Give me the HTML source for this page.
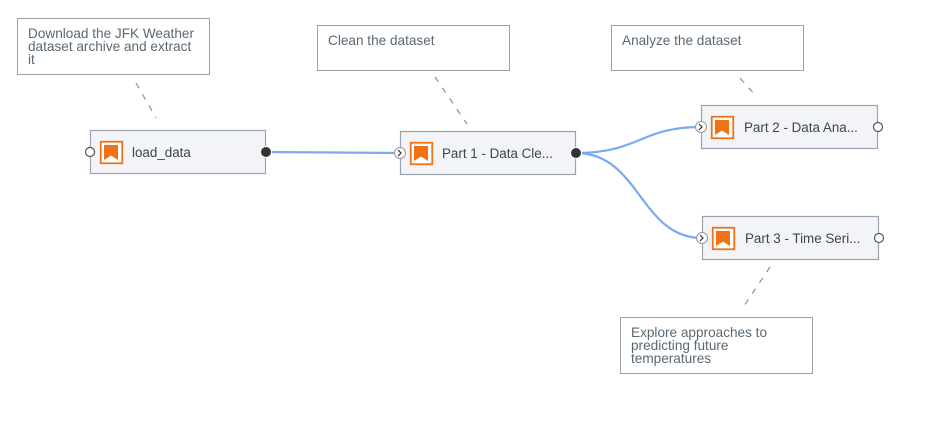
<!DOCTYPE html>
<html><head><meta charset="utf-8"><style>
html,body{margin:0;padding:0;background:#fff;width:935px;height:422px;overflow:hidden}
svg{display:block;font-family:"Liberation Sans",sans-serif}
.ct{font-size:13.6px;fill:#5a6872}
.nt{font-size:13.4px;fill:#3d4450}
</style></head><body>
<svg width="935" height="422" viewBox="0 0 935 422" xmlns="http://www.w3.org/2000/svg">
<defs>
<g id="icon">
<rect x="0.75" y="0.75" width="21.5" height="21.5" fill="#fff" stroke="#f07214" stroke-width="1.8"/>
<path d="M4 4 H18 V19 L11 14.5 L4 19 Z" fill="#f07214"/>
</g>
</defs>
<g fill="#fff" stroke="#9aa1a8" stroke-width="1">
<rect x="17.5" y="18.5" width="192" height="56"/>
<rect x="317.5" y="25.5" width="192" height="45"/>
<rect x="611.5" y="25.5" width="192" height="45"/>
<rect x="620.5" y="317.5" width="192" height="56"/>
</g>
<text class="ct" x="28" y="38">Download the JFK Weather</text>
<text class="ct" x="28" y="51">dataset archive and extract</text>
<text class="ct" x="28" y="64">it</text>
<text class="ct" x="328" y="45">Clean the dataset</text>
<text class="ct" x="622" y="45">Analyze the dataset</text>
<text class="ct" x="631" y="337">Explore approaches to</text>
<text class="ct" x="631" y="350">predicting future</text>
<text class="ct" x="631" y="363">temperatures</text>
<g stroke="#8a9199" stroke-width="1.2" stroke-dasharray="6,7" fill="none">
<line x1="136" y1="83" x2="156" y2="118"/>
<line x1="435" y1="77" x2="467" y2="124"/>
<line x1="740" y1="78" x2="756" y2="96"/>
<line x1="770" y1="267" x2="742" y2="309"/>
</g>
<g stroke="#7aa9f7" stroke-width="2.2" fill="none">
<path d="M266 152 L399 153"/>
<path d="M576 153 C640 153 640 127 701 127"/>
<path d="M576 153 C640 153 640 238 702 238"/>
</g>
<g fill="#f3f4f8" stroke="#9aa3ad" stroke-width="1.2">
<rect x="90.5" y="130.5" width="175" height="43"/>
<rect x="400.5" y="131.5" width="175" height="43"/>
<rect x="701.5" y="105.5" width="176" height="43"/>
<rect x="702.5" y="216.5" width="176" height="43"/>
</g>
<use href="#icon" x="100" y="141"/>
<use href="#icon" x="410" y="142"/>
<use href="#icon" x="711" y="116"/>
<use href="#icon" x="712" y="227"/>
<text class="nt" x="132" y="157">load_data</text>
<text class="nt" x="442" y="158">Part 1 - Data Cle...</text>
<text class="nt" x="744" y="132">Part 2 - Data Ana...</text>
<text class="nt" x="745" y="243">Part 3 - Time Seri...</text>
<g stroke="#555" stroke-width="1.2" fill="#fff">
<circle cx="90" cy="152" r="4.5"/>
<circle cx="878" cy="127" r="4.5"/>
<circle cx="879" cy="238" r="4.5"/>
</g>
<g fill="#333" stroke="#fff" stroke-width="1">
<circle cx="266" cy="152" r="5.5"/>
<circle cx="576" cy="153" r="5.5"/>
</g>
<g fill="#fff" stroke="#999" stroke-width="1">
<circle cx="400" cy="153" r="5.5"/>
<circle cx="701" cy="127" r="5.5"/>
<circle cx="702" cy="238" r="5.5"/>
</g>
<g fill="none" stroke="#333" stroke-width="1.2">
<path d="M398 150 L401 153 L398 156"/>
<path d="M699 124 L702 127 L699 130"/>
<path d="M700 235 L703 238 L700 241"/>
</g>
</svg>
</body></html>
